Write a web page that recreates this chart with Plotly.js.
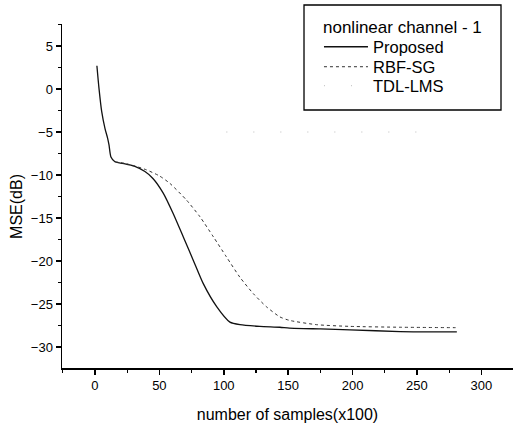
<!DOCTYPE html>
<html>
<head>
<meta charset="utf-8">
<script src="https://cdn.plot.ly/plotly-3.0.1.min.js"></script>
<style>html,body{margin:0;padding:0;background:#fff;}#chart{width:513px;height:424px;}</style>
</head>
<body>
<div id="chart"></div>
<script>
// number of samples (x100)
var proposedX = [1.5, 3.1, 5.2, 7.8, 9.8, 10.9, 12.4, 15.5, 19, 23.3, 31, 38.8, 45, 53, 60.8, 68.6, 76.3, 84, 94.5, 104.8, 112.6, 128, 143.6, 151, 175, 198, 237, 281];
var proposedY = [2.7, 0.1, -2.6, -4.6, -5.7, -6.5, -7.9, -8.45, -8.6, -8.7, -9.0, -9.6, -10.4, -12.1, -14.5, -17.2, -19.9, -22.6, -25.3, -27.1, -27.4, -27.6, -27.7, -27.8, -27.9, -28.0, -28.2, -28.25];

var rbfX = [15.5, 23.3, 31, 40, 50, 58, 71, 81.5, 92, 102, 112.6, 123, 133, 143.6, 151, 172, 198, 237, 280];
var rbfY = [-8.45, -8.65, -8.95, -9.4, -10.1, -10.95, -12.9, -14.85, -17.2, -19.5, -21.9, -23.8, -25.3, -26.5, -26.9, -27.4, -27.6, -27.7, -27.75];

var tdlX = [102, 262];
var tdlY = [-5.0, -5.0];

var legendTitle = 'nonlinear channel - 1';
var seriesNames = ['Proposed', 'RBF-SG', 'TDL-LMS'];
var xTickVals = [0, 50, 100, 150, 200, 250, 300];
var yTickVals = [5, 0, -5, -10, -15, -20, -25, -30];

var FONT = 'Liberation Sans, Arial, sans-serif';

var traces = [
  {x: proposedX, y: proposedY, name: seriesNames[0], type: 'scatter', mode: 'lines', legend: 'legend',
   line: {color: '#111', width: 1.3, shape: 'spline', smoothing: 0.6}},
  {x: rbfX, y: rbfY, name: seriesNames[1], type: 'scatter', mode: 'lines', legend: 'legend2',
   line: {color: '#333', width: 1, dash: '3px,3px', shape: 'spline', smoothing: 0.6}},
  {x: tdlX, y: tdlY, name: seriesNames[2], type: 'scatter', mode: 'lines', legend: 'legend3',
   line: {color: '#bbb', width: 1, dash: '1px,26px'}}
];

var axisCommon = {
  showline: true, linecolor: '#000', linewidth: 1.5, mirror: false,
  showgrid: false, zeroline: false,
  ticks: 'outside', ticklen: 5, tickwidth: 1.5, tickcolor: '#000',
  tickfont: {family: FONT, size: 13, color: '#000'},
  minor: {ticks: 'outside', ticklen: 3, tickwidth: 1.2, tickcolor: '#000'}
};

function legendAt(yPaper) {
  return {x: 0.5698, y: yPaper, xanchor: 'left', yanchor: 'middle',
          borderwidth: 0, bgcolor: 'rgba(0,0,0,0)', itemwidth: 44,
          font: {family: FONT, size: 16.5, color: '#000'}};
}

var layout = {
  width: 513, height: 424,
  margin: {l: 62, r: 0, t: 24, b: 56},
  paper_bgcolor: '#fff', plot_bgcolor: '#fff',
  font: {family: FONT, color: '#000'},
  showlegend: true,
  legend: legendAt(0.9331),
  legend2: legendAt(0.875),
  legend3: legendAt(0.8198),
  shapes: [{type: 'rect', xref: 'paper', yref: 'paper', x0: 0.5366, x1: 0.9734, y0: 0.75, y1: 1.0552,
            line: {color: '#000', width: 1.3}, fillcolor: 'rgba(0,0,0,0)'}],
  annotations: [
    {text: legendTitle, xref: 'paper', yref: 'paper', x: 0.5743, y: 0.9884, xanchor: 'left', yanchor: 'middle',
     showarrow: false, font: {family: FONT, size: 17, color: '#000'}},
    {text: 'MSE(dB)', xref: 'paper', yref: 'paper', x: -0.1, y: 0.471, xanchor: 'center', yanchor: 'middle',
     textangle: -90, showarrow: false, font: {family: FONT, size: 16, color: '#000'}}
  ],
  xaxis: Object.assign({}, axisCommon, {
    range: [-25.6, 324.6], tickvals: xTickVals,
    minor: Object.assign({}, axisCommon.minor, {dtick: 25, tick0: 25}),
    title: {text: 'number of samples(x100)', font: {family: FONT, size: 16}, standoff: 16}
  }),
  yaxis: Object.assign({}, axisCommon, {
    range: [-32.44, 7.56], tickvals: yTickVals,
    minor: Object.assign({}, axisCommon.minor, {dtick: 2.5, tick0: 2.5})
  })
};

Plotly.newPlot('chart', traces, layout, {staticPlot: true, displayModeBar: false});
</script>
</body>
</html>
